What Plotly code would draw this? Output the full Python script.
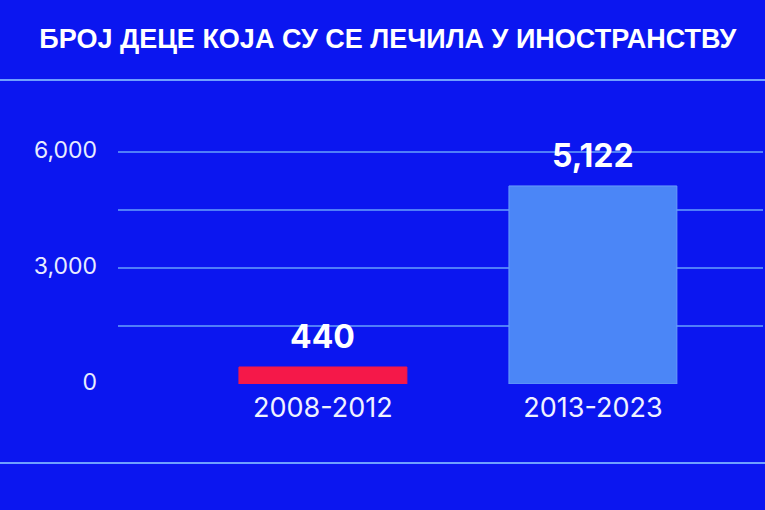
import plotly.graph_objects as go

title = "БРОЈ ДЕЦЕ КОЈА СУ СЕ ЛЕЧИЛА У ИНОСТРАНСТВУ"
periods = ["2008-2012", "2013-2023"]
children = [440, 5122]
bar_colors = ["#f51849", "#4b86f7"]
tick_vals = [0, 1500, 3000, 4500, 6000]
tick_text = ["0", "", "3,000", "", "6,000"]

BG = "#0b16f0"

fig = go.Figure()
fig.add_trace(go.Bar(
    x=periods, y=children, width=0.622,
    marker=dict(color=bar_colors, line=dict(color=["#f51849", "#6a9cfb"], width=1)),
    hoverinfo="skip",
))

for p, v in zip(periods, children):
    fig.add_annotation(x=p, y=v, text=f"{v:,}", showarrow=False,
                       yanchor="bottom", yshift=9,
                       font=dict(family="Inter", size=32, color="white", weight="bold"))

fig.update_layout(
    width=765, height=510,
    paper_bgcolor=BG, plot_bgcolor=BG,
    margin=dict(l=118, r=2, t=100, b=126),
    showlegend=False,
    title=dict(text=f"<b>{title}</b>", x=0.507, xanchor="center", y=0.924, yanchor="middle",
               font=dict(family="Liberation Sans", size=27, color="white")),
    xaxis=dict(range=[-0.759, 1.630], showgrid=False, zeroline=False, showline=False,
               tickfont=dict(family="Inter", size=27, color="#f0f2ff"),
               ticklabelstandoff=5),
    yaxis=dict(range=[0, 7345], tickvals=tick_vals, ticktext=tick_text,
               showgrid=True, gridcolor="#4f7ef9", gridwidth=1.5, zeroline=False,
               showline=False, tickfont=dict(family="Inter", size=23, color="#e8ecff"),
               ticklabelstandoff=20, ticklabelshift=-2),
    shapes=[
        dict(type="line", xref="paper", yref="paper", x0=-0.2, x1=1.01,
             y0=(510 - 126 - 80) / 284, y1=(510 - 126 - 80) / 284,
             line=dict(color="#6fa0ff", width=2)),
        dict(type="line", xref="paper", yref="paper", x0=-0.2, x1=1.01,
             y0=(510 - 126 - 463) / 284, y1=(510 - 126 - 463) / 284,
             line=dict(color="#6fa0ff", width=2)),
    ],
)

fig.write_html("out.html", config={"displayModeBar": False},
               post_script="document.body.style.margin='0';")
